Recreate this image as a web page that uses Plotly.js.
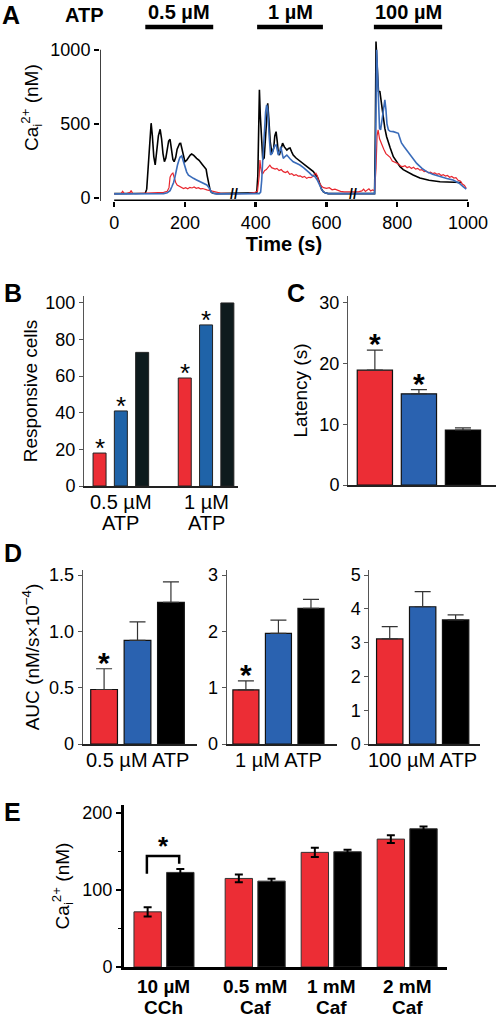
<!DOCTYPE html>
<html><head><meta charset="utf-8">
<script src="https://cdn.plot.ly/plotly-3.0.1.min.js"></script>
<style>html,body{margin:0;padding:0;background:#fff}#chart{width:500px;height:1019px}</style>
</head><body><div id="chart"></div>
<script>
// ---------- Panel A: Ca traces (time in s, Ca in nM) ----------
const blackT = [0,40,80,88,92,96,100,104.5,108,112,116,120,125,130,134,138,142,146,150,154,158,162,166,169.5,174,178,182,185,188,192,196,200,205,210,215,219,225,233,240,248,255,260,263,267,271,275,280,290,340,400,403,406,408,410.5,413,417,420,424,427,431,434,437,441,446,451,454,457.6,461,464,467,471,476,481,488,493,497,502,506,514,521,528,535,542,549,556,563,568,574,578,582,586,591,596,605,650,700,736,738,740,742,744,747,751,755,760,765,770,775,780,789,800,808,817,827,845,864,890,921,958,982];
const blackV = [30,30,30,32,60,200,400,505,420,280,223,300,420,464,400,300,245,270,340,385,396,330,260,245,275,330,360,368,369,320,270,245,255,275,290,297,288,268,255,230,210,194,150,100,54,38,32,30,30,30,35,150,450,730,560,347,260,270,400,600,640,540,380,300,340,420,448,380,300,290,330,370,345,324,335,338,310,290,270,257,245,234,220,207,192,178,160,144,120,88,60,43,35,30,30,30,30,400,1056,950,800,720,718,640,540,470,414,370,340,279,240,212,192,178,155,135,120,110,110,105];

const blueT = [0,100,140,150,158,163,168,172,176,179,183,186,191,195,200,205,210,217,224,233,243,252,262,268,271,275,280,290,340,400,410,414,417,420,424,428,431,434,438,442,446,450,454,458,461,464,467,471,475,478,483,488,497,506,515,525,535,544,552,558,563,568,574,578,582,587,591,596,605,650,700,736,738,740,742,745,748,750,753,757,761,765,768,771,775,780,789,796,803,808,812,820,827,840,855,870,883,900,921,940,958,975,987,995];
const blueV = [28,28,30,35,50,76,105,144,200,223,255,275,284,250,200,175,155,142,133,122,110,100,88,70,54,40,32,28,28,28,30,40,120,260,430,580,628,600,420,290,300,330,355,358,320,290,310,347,300,268,280,290,265,245,235,223,205,189,170,155,150,144,122,100,76,55,43,35,30,30,30,30,200,700,1000,800,560,470,460,520,600,662,600,500,460,450,448,440,437,400,372,345,324,280,234,200,178,160,144,132,122,100,76,60];

const redT = [0,10,20,24,28,35,45,48,52,60,80,100,120,140,150,155,158,162,166,170,174,178,183,190,196,202,208,214,220,226,232,238,244,250,256,262,268,274,280,290,300,330,360,380,395,405,410,412,414,417,420,425,430,435,440,445,450,455,460,466,472,478,484,490,496,502,508,514,520,526,532,538,544,550,556,562,566,570,574,578,582,587,592,600,608,616,624,632,640,650,670,690,700,705,710,715,720,725,730,736,740,743,746,750,756,762,768,774,780,786,792,798,804,810,816,822,828,834,840,846,852,858,864,870,876,882,888,894,900,906,912,918,924,930,936,942,948,954,960,966,972,978,984,990,995];
const redV = [30,30,32,45,32,30,38,50,32,30,32,30,34,38,45,70,140,160,168,130,105,88,80,72,64,70,62,72,68,75,66,70,62,64,58,55,52,48,44,38,34,30,30,32,36,45,150,257,210,170,165,185,192,210,222,205,200,196,200,185,192,178,172,180,160,165,152,158,148,150,140,146,133,140,138,146,160,168,150,112,95,78,70,65,70,56,60,52,45,42,40,42,48,60,45,52,62,48,55,50,200,420,460,400,358,330,300,290,275,250,245,238,230,215,212,218,205,212,200,208,195,200,188,192,178,182,170,175,165,170,160,165,152,158,148,152,140,146,135,138,120,115,95,85,65];

// ATP application periods (s) and labels
const atpStart = [88, 404, 734];
const atpEnd   = [280, 590, 927];
const atpLabel = ['0.5 µM', '1 µM', '100 µM'];
const breakTimes = [340, 675];

// ---------- Panel B: responsive cells (%) ----------
const bGroupLine1 = ['0.5 µM', '1 µM'];
const bGroupLine2 = ['ATP', 'ATP'];
const bRed   = [18, 59];
const bBlue  = [41, 88];
const bBlack = [73, 100];
const bRedStar = [true, true], bBlueStar = [true, true], bBlackStar = [false, false];

// ---------- Panel C: latency (s) ----------
const cVal  = [18.9, 15.0, 9.05];
const cErr  = [3.3, 0.7, 0.35];
const cStar = [true, true, false];

// ---------- Panel D: AUC ----------
const dLabels  = ['0.5 µM ATP', '1 µM ATP', '100 µM ATP'];
const dRed     = [0.484, 0.96, 3.11];
const dRedErr  = [0.184, 0.16, 0.36];
const dBlue    = [0.92, 1.965, 4.06];
const dBlueErr = [0.164, 0.235, 0.45];
const dBlack   = [1.257, 2.41, 3.67];
const dBlackErr= [0.183, 0.16, 0.15];
const dRedStar = [true, true, false];

// ---------- Panel E: Ca (nM) ----------
const eLine1    = ['10 µM', '0.5 mM', '1 mM', '2 mM'];
const eLine2    = ['CCh', 'Caf', 'Caf', 'Caf'];
const eRed      = [71.5, 114.8, 148.6, 165.8];
const eRedErr   = [6, 5, 6, 5];
const eBlack    = [122.6, 111.3, 149.4, 179.2];
const eBlackErr = [4.5, 3, 2.5, 3];

// ---------- styling / layout ----------
const W = 500, H = 1019;
const px = x => x / W, py = y => 1 - y / H;
const FONT = "Arial, 'Liberation Sans', sans-serif";
const RED = '#EC2D35', BLUE = '#2A62B0', BLACK = '#000000';
const LRED = '#E8262E', LBLUE = '#3A6CBA';

const traces = [];
const annotations = [];
const shapes = [];
function ann(o) { annotations.push(Object.assign({showarrow: false, xanchor: 'center', yanchor: 'middle'}, o)); }

// Panel A
traces.push({x: blackT, y: blackV, xaxis: 'x', yaxis: 'y', mode: 'lines', line: {color: '#000', width: 1.6}, hoverinfo: 'skip'});
traces.push({x: redT, y: redV, xaxis: 'x', yaxis: 'y', mode: 'lines', line: {color: LRED, width: 1.2}, hoverinfo: 'skip'});
traces.push({x: blueT, y: blueV, xaxis: 'x', yaxis: 'y', mode: 'lines', line: {color: LBLUE, width: 1.6}, hoverinfo: 'skip'});
shapes.push({type: 'line', xref: 'x', yref: 'y', x0: 0, x1: 1000, y0: -20, y1: -20, line: {color: '#000', width: 3}});
shapes.push({type: 'line', xref: 'x', yref: 'y', x0: -40, x1: -40, y0: -20, y1: 1000, line: {color: '#000', width: 1.5}});
atpStart.forEach((s, i) => {
  shapes.push({type: 'line', xref: 'x', yref: 'paper', x0: s, x1: atpEnd[i], y0: py(27), y1: py(27), line: {color: '#000', width: 4.5}});
  ann({xref: 'x', yref: 'paper', x: (s + atpEnd[i]) / 2, y: py(12), text: '<b>' + atpLabel[i] + '</b>', font: {size: 20}});
});
breakTimes.forEach(t => ann({xref: 'x', yref: 'y', x: t, y: 25, text: '<b>//</b>', font: {size: 14}}));
ann({xref: 'paper', yref: 'paper', x: px(11), y: py(15), text: '<b>A</b>', font: {size: 25}});
ann({xref: 'paper', yref: 'paper', x: px(84), y: py(15), text: '<b>ATP</b>', font: {size: 20}});
ann({xref: 'paper', yref: 'paper', x: px(31), y: py(108), text: 'Ca<sub>i</sub><sup>2+</sup> (nM)', textangle: -90, font: {size: 19}});

// Panel B
const bSeries = [[bRed, RED, bRedStar, -1], [bBlue, '#1F63A8', bBlueStar, 0], [bBlack, '#0E1B1D', bBlackStar, 1]];
bSeries.forEach(([vals, col, stars, off]) => {
  const xs = vals.map((v, i) => i * 4 + 1 + off);
  traces.push({type: 'bar', x: xs, y: vals, xaxis: 'x2', yaxis: 'y2', width: 0.61, marker: {color: col, line: {color: '#222', width: 1}}, hoverinfo: 'skip'});
  vals.forEach((v, i) => { if (stars[i]) ann({xref: 'x2', yref: 'y2', x: xs[i], y: v, text: '*', yanchor: 'bottom', yshift: -12, font: {size: 26}}); });
});
bGroupLine1.forEach((t, i) => {
  ann({xref: 'x2', yref: 'paper', x: i * 4 + 1, y: py(502), text: t, font: {size: 20}});
  ann({xref: 'x2', yref: 'paper', x: i * 4 + 1, y: py(523), text: bGroupLine2[i], font: {size: 20}});
});
ann({xref: 'paper', yref: 'paper', x: px(13), y: py(293), text: '<b>B</b>', font: {size: 25}});

// Panel C
traces.push({type: 'bar', x: [0, 1, 2], y: cVal, xaxis: 'x3', yaxis: 'y3', width: 0.8,
  marker: {color: [RED, BLUE, BLACK], line: {color: '#111', width: 1.2}},
  error_y: {type: 'data', symmetric: false, array: cErr, arrayminus: cErr.map(() => 0), color: '#333', thickness: 1.2, width: 8}, hoverinfo: 'skip'});
cVal.forEach((v, i) => { if (cStar[i]) ann({xref: 'x3', yref: 'y3', x: i, y: v + cErr[i], text: '<b>*</b>', yanchor: 'bottom', yshift: -12, font: {size: 30}}); });
ann({xref: 'paper', yref: 'paper', x: px(296), y: py(293), text: '<b>C</b>', font: {size: 25}});

// Panel D
const dAx = [['x4', 'y4'], ['x5', 'y5'], ['x6', 'y6']];
dAx.forEach(([xa, ya], k) => {
  const vals = [dRed[k], dBlue[k], dBlack[k]];
  const errs = [dRedErr[k], dBlueErr[k], dBlackErr[k]];
  traces.push({type: 'bar', x: [0, 1, 2], y: vals, xaxis: xa, yaxis: ya, width: 0.8,
    marker: {color: [RED, BLUE, BLACK], line: {color: '#111', width: 1.2}},
    error_y: {type: 'data', symmetric: false, array: errs, arrayminus: [0, 0, 0], color: '#333', thickness: 1.2, width: 8}, hoverinfo: 'skip'});
  if (dRedStar[k]) ann({xref: xa, yref: ya, x: 0, y: dRed[k] + dRedErr[k], text: '<b>*</b>', yanchor: 'bottom', yshift: -12, font: {size: 30}});
  ann({xref: xa, yref: 'paper', x: 1, y: py(760), text: dLabels[k], font: {size: 20}});
});
ann({xref: 'paper', yref: 'paper', x: px(13), y: py(553), text: '<b>D</b>', font: {size: 25}});

// Panel E
const ePos = [0, 1.2, 2.2, 3.2];
traces.push({type: 'bar', x: ePos.map(p => p - 0.215), y: eRed, xaxis: 'x7', yaxis: 'y7', width: 0.36,
  marker: {color: RED, line: {color: '#333', width: 1}},
  error_y: {type: 'data', array: eRedErr, color: '#000', thickness: 2, width: 4}, hoverinfo: 'skip'});
traces.push({type: 'bar', x: ePos.map(p => p + 0.215), y: eBlack, xaxis: 'x7', yaxis: 'y7', width: 0.36,
  marker: {color: BLACK, line: {color: '#333', width: 1}},
  error_y: {type: 'data', array: eBlackErr, color: '#000', thickness: 2, width: 4}, hoverinfo: 'skip'});
const brY = 144, brL = 121, brR = 134;
shapes.push({type: 'path', xref: 'x7', yref: 'y7',
  path: `M ${ePos[0] - 0.225} ${brL} L ${ePos[0] - 0.225} ${brY} L ${ePos[0] + 0.2} ${brY} L ${ePos[0] + 0.2} ${brR}`,
  line: {color: '#000', width: 2.5}});
ann({xref: 'x7', yref: 'y7', x: ePos[0] - 0.01, y: brY, text: '<b>*</b>', yanchor: 'bottom', yshift: -7, font: {size: 26}});
eLine1.forEach((t, i) => {
  ann({xref: 'x7', yref: 'paper', x: ePos[i], y: py(986), text: '<b>' + t + '</b>', font: {size: 19}});
  ann({xref: 'x7', yref: 'paper', x: ePos[i], y: py(1007), text: '<b>' + eLine2[i] + '</b>', font: {size: 19}});
});
ann({xref: 'paper', yref: 'paper', x: px(12), y: py(812), text: '<b>E</b>', font: {size: 25}});

const base = {showgrid: false, zeroline: false, fixedrange: true, tickcolor: '#000', tickfont: {size: 18, color: '#000'}};
const thinY = Object.assign({}, base, {showline: true, linecolor: '#555', linewidth: 1, ticks: 'outside', ticklen: 4, tickwidth: 1, tickcolor: '#555'});
const xCat = Object.assign({}, base, {showline: true, linecolor: '#222', linewidth: 1.8, ticks: '', showticklabels: false});

const layout = {
  width: W, height: H, margin: {l: 0, r: 0, t: 0, b: 0}, showlegend: false,
  paper_bgcolor: '#fff', plot_bgcolor: 'rgba(0,0,0,0)', bargap: 0,
  font: {family: FONT, color: '#000'},
  xaxis: Object.assign({}, base, {domain: [px(100), px(468)], range: [-40, 1000], anchor: 'y', tickvals: [0, 200, 400, 600, 800, 1000], ticks: 'outside', ticklen: 5, tickwidth: 2.5, showline: false, title: {text: '<b>Time (s)</b>', font: {size: 20}, standoff: 4}}),
  yaxis: Object.assign({}, base, {domain: [py(201), py(38)], range: [-20, 1080], anchor: 'x', tickvals: [0, 500, 1000], ticks: 'outside', ticklen: 5, tickwidth: 1.5, showline: false}),

  xaxis2: Object.assign({}, xCat, {domain: [px(84), px(238)], range: [-0.73, 6.5], anchor: 'y2'}),
  yaxis2: Object.assign({}, thinY, {domain: [py(486), py(296)], range: [0, 103.8], anchor: 'x2', tickvals: [0, 20, 40, 60, 80, 100], title: {text: 'Responsive cells', font: {size: 19}, standoff: 2}}),

  xaxis3: Object.assign({}, xCat, {domain: [px(348), px(496)], range: [-0.61, 2.75], anchor: 'y3', linewidth: 2}),
  yaxis3: Object.assign({}, thinY, {domain: [py(485), py(296)], range: [0, 31.1], anchor: 'x3', tickvals: [0, 10, 20, 30], title: {text: 'Latency (s)', font: {size: 19}, standoff: 6}}),

  xaxis4: Object.assign({}, xCat, {domain: [px(82.7), px(197)], range: [-0.64, 2.78], anchor: 'y4'}),
  yaxis4: Object.assign({}, thinY, {domain: [py(744), py(570)], range: [0, 1.545], anchor: 'x4', tickvals: [0, 0.5, 1, 1.5], ticktext: ['0', '0.5', '1.0', '1.5'], title: {text: 'AUC (nM/s×10<sup>−4</sup>)', font: {size: 19}, standoff: 4}}),
  xaxis5: Object.assign({}, xCat, {domain: [px(226.7), px(337)], range: [-0.59, 2.8], anchor: 'y5'}),
  yaxis5: Object.assign({}, thinY, {domain: [py(744), py(570)], range: [0, 3.09], anchor: 'x5', tickvals: [0, 1, 2, 3]}),
  xaxis6: Object.assign({}, xCat, {domain: [px(369.3), px(480)], range: [-0.62, 2.74], anchor: 'y6'}),
  yaxis6: Object.assign({}, thinY, {domain: [py(744), py(570)], range: [0, 5.148], anchor: 'x6', tickvals: [0, 1, 2, 3, 4, 5]}),

  xaxis7: Object.assign({}, xCat, {domain: [px(124), px(446.7)], range: [-0.526, 3.72], anchor: 'y7', linewidth: 3, linecolor: '#000'}),
  yaxis7: Object.assign({}, base, {domain: [py(967), py(805)], range: [0, 210], anchor: 'x7', tickvals: [0, 100, 200], showline: true, linewidth: 3, linecolor: '#000', ticks: 'outside', ticklen: 5, tickwidth: 2,
    minor: {tickvals: [50, 150], ticks: 'outside', ticklen: 3, tickwidth: 1.5, tickcolor: '#000'},
    title: {text: 'Ca<sub>i</sub><sup>2+</sup> (nM)', font: {size: 19}, standoff: 8}}),

  shapes: shapes, annotations: annotations
};

Plotly.newPlot('chart', traces, layout, {staticPlot: true, displayModeBar: false});
</script>
</body></html>
